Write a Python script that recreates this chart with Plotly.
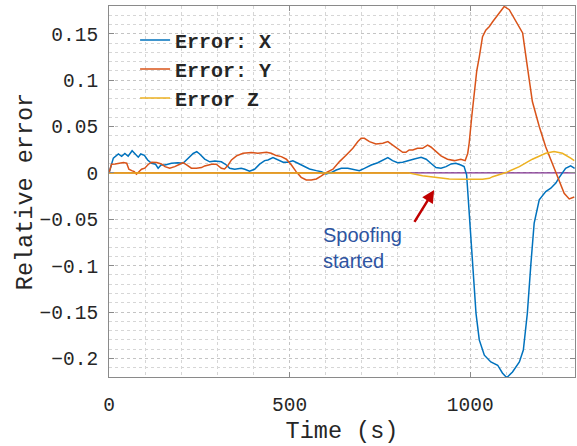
import plotly.graph_objects as go

# ---- data ----
x_t = [0, 12, 26, 35, 44, 53, 64, 74, 81, 88, 98, 107, 118, 129, 136, 144, 155, 173, 191, 205,
       219, 233, 243, 251, 265, 279, 293, 311, 325, 334, 348, 366, 376, 389, 403, 417, 431, 440,
       454, 468, 482, 495, 509, 523, 537, 555, 574, 588, 601, 615, 629, 643, 661, 680, 693, 707,
       726, 744, 758, 772, 785, 799, 813, 827, 845, 864, 878, 891, 905, 919, 933, 947, 960, 974,
       983, 990, 993, 997, 1006, 1016, 1025, 1039, 1057, 1076, 1089, 1101, 1117, 1136, 1147, 1158,
       1168, 1177, 1191, 1209, 1223, 1237, 1246, 1264, 1278, 1289]
x_err = [0, 0.016, 0.0205, 0.018, 0.021, 0.018, 0.024, 0.0205, 0.017, 0.0205, 0.019, 0.014, 0.0105,
         0.0094, 0.005, 0.0086, 0.0086, 0.0105, 0.011, 0.0105, 0.016, 0.021, 0.023, 0.0205, 0.015,
         0.012, 0.013, 0.012, 0.0086, 0.005, 0.004, 0.005, 0.004, 0.002, 0.004, 0.0095, 0.0133,
         0.014, 0.0166, 0.014, 0.0115, 0.0115, 0.013, 0.0105, 0.0076, 0.0043, 0.0025, 0.0014,
         -0.001, 0.0004, 0.0032, 0.005, 0.005, 0.004, 0.0025, 0.005, 0.0086, 0.011, 0.014, 0.0166,
         0.0133, 0.011, 0.0115, 0.0133, 0.0151, 0.017, 0.0148, 0.0105, 0.0058, 0.005, 0.0068,
         0.0097, 0.0105, 0.0086, 0.0068, -0.002, -0.018, -0.0435, -0.0975, -0.1515, -0.180,
         -0.1965, -0.2038, -0.2073, -0.2157, -0.2207, -0.2146, -0.2038, -0.191, -0.1515, -0.0975,
         -0.054, -0.029, -0.020, -0.0165, -0.011, -0.005, 0.005, 0.0076, 0.005]

y_t = [0, 7, 17, 30, 40, 49, 55, 63, 70, 76, 81, 90, 99, 109, 118, 132, 145, 155, 168, 182, 196,
       205, 215, 228, 242, 256, 265, 284, 297, 311, 320, 330, 339, 353, 371, 394, 412, 429, 436,
       449, 463, 477, 491, 505, 518, 532, 546, 560, 574, 588, 601, 620, 638, 657, 675, 689, 698,
       707, 721, 739, 758, 772, 785, 799, 813, 822, 831, 841, 854, 868, 882, 891, 905, 919, 937,
       956, 974, 986, 993, 997, 1004, 1011, 1018, 1025, 1034, 1043, 1053, 1062, 1076, 1094, 1108,
       1126, 1145, 1158, 1172, 1191, 1209, 1227, 1246, 1260, 1274, 1288]
y_err = [0, 0.0094, 0.0097, 0.0105, 0.0112, 0.0105, 0.004, 0.0025, 0.0014, -0.0014, 0.0004, 0.004,
         0.0051, 0.0094, 0.0115, 0.0112, 0.0097, 0.0068, 0.0051, 0.0068, 0.0094, 0.0112, 0.0086,
         0.0051, 0.0051, 0.0058, 0.0076, 0.0094, 0.0094, 0.0051, 0.0043, 0.0086, 0.014, 0.0184,
         0.0212, 0.022, 0.0212, 0.0215, 0.0223, 0.0212, 0.0187, 0.0176, 0.0148, 0.0086, 0.0014,
         -0.0047, -0.0076, -0.0076, -0.0065, -0.0032, 0.0004, 0.004, 0.0122, 0.0194, 0.0266,
         0.0338, 0.0374, 0.0374, 0.0338, 0.0313, 0.032, 0.0338, 0.0302, 0.0256, 0.0223, 0.0223,
         0.0248, 0.0248, 0.0266, 0.0266, 0.0300, 0.028, 0.023, 0.0184, 0.0148, 0.0133, 0.0148,
         0.0133, 0.021, 0.032, 0.06, 0.085, 0.11, 0.125, 0.147, 0.154, 0.158, 0.163, 0.170, 0.1795,
         0.176, 0.163, 0.151, 0.115, 0.077, 0.05, 0.028, 0.0105, -0.009, -0.022, -0.028, -0.026]

z_t = [0, 831, 868, 905, 942, 979, 1016, 1034, 1053, 1062, 1099, 1136, 1172, 1209, 1232, 1255,
       1278, 1288]
z_err = [0, 0, -0.0029, -0.0047, -0.0065, -0.0068, -0.0068, -0.0068, -0.0058, -0.004, 0.0004,
         0.0068, 0.0148, 0.0212, 0.023, 0.0212, 0.0159, 0.0133]

ref_purple_t = [0, 1290]
ref_purple = [0, 0]
ref_orange_t = [0, 831]
ref_orange = [0, 0]

series_names = ["Error: X", "Error: Y", "Error Z"]
x_ticks = [0, 500, 1000]
y_ticks = [-0.2, -0.15, -0.1, -0.05, 0, 0.05, 0.1, 0.15]
y_tick_text = ["−0.2", "−0.15", "−0.1", "−0.05", "0", "0.05", "0.1", "0.15"]

BLUE, ORANGE, YELLOW, PURPLE = "#0072BD", "#D95319", "#EDB120", "#7E2F8E"
MONO = "Courier New, Courier, Nimbus Mono PS, FreeMono, Liberation Mono, monospace"

fig = go.Figure()
fig.add_trace(go.Scatter(x=ref_purple_t, y=ref_purple, mode="lines", showlegend=False,
                         line=dict(color=PURPLE, width=1.2), hoverinfo="skip"))
fig.add_trace(go.Scatter(x=ref_orange_t, y=ref_orange, mode="lines", showlegend=False,
                         line=dict(color=ORANGE, width=1.2), hoverinfo="skip"))
fig.add_trace(go.Scatter(x=x_t, y=x_err, mode="lines", name=series_names[0],
                         line=dict(color=BLUE, width=1.5)))
fig.add_trace(go.Scatter(x=y_t, y=y_err, mode="lines", name=series_names[1],
                         line=dict(color=ORANGE, width=1.5)))
fig.add_trace(go.Scatter(x=z_t, y=z_err, mode="lines", name=series_names[2],
                         line=dict(color=YELLOW, width=1.5)))

axis_common = dict(
    showline=True, linecolor="#8a8a8a", linewidth=1, mirror="ticks",
    ticks="inside", ticklen=5, tickcolor="#8a8a8a",
    showgrid=True, gridcolor="#c4c4c4", griddash="dot", gridwidth=1,
    zeroline=False,
    tickfont=dict(family=MONO, size=19.5, color="#262626"),
)

fig.update_xaxes(range=[0, 1290], tickvals=x_ticks, ticklabelstandoff=10,
                 minor=dict(dtick=100, tick0=0, showgrid=True, gridcolor="#d6d6d6",
                            griddash="dot", ticks=""),
                 title=dict(text="Time (s)", standoff=5,
                            font=dict(family=MONO, size=23.5, color="#262626")),
                 **axis_common)
fig.update_yaxes(range=[-0.22, 0.18], tickvals=y_ticks, ticktext=y_tick_text,
                 ticklabelstandoff=6,
                 minor=dict(dtick=0.01, tick0=0, showgrid=True, gridcolor="#d6d6d6",
                            griddash="dot", ticks=""),
                 title=dict(text="Relative error", standoff=0,
                            font=dict(family=MONO, size=23.5, color="#262626")),
                 **axis_common)

fig.add_annotation(x=588, y=-0.081, xref="x", yref="y", text="Spoofing<br>started",
                   showarrow=False, xanchor="left", yanchor="middle", align="left",
                   font=dict(family="Liberation Sans, Arial, sans-serif", size=20,
                             color="#2E54A1"))
fig.add_annotation(x=900, y=-0.0184, ax=843, ay=-0.0543, xref="x", yref="y",
                   axref="x", ayref="y", text="", showarrow=True, arrowhead=2,
                   arrowsize=1.0, arrowwidth=2.5, arrowcolor="#C00000")

fig.update_layout(
    width=577, height=446,
    margin=dict(l=109, r=2, t=6, b=69),
    paper_bgcolor="white", plot_bgcolor="white",
    legend=dict(x=0.056, y=0.961, xanchor="left", yanchor="top",
                bgcolor="rgba(0,0,0,0)", borderwidth=0,
                font=dict(family=MONO, size=20, color="#262626", weight="bold"),
                tracegroupgap=0, itemwidth=30),
)

fig.write_html("out.html")
